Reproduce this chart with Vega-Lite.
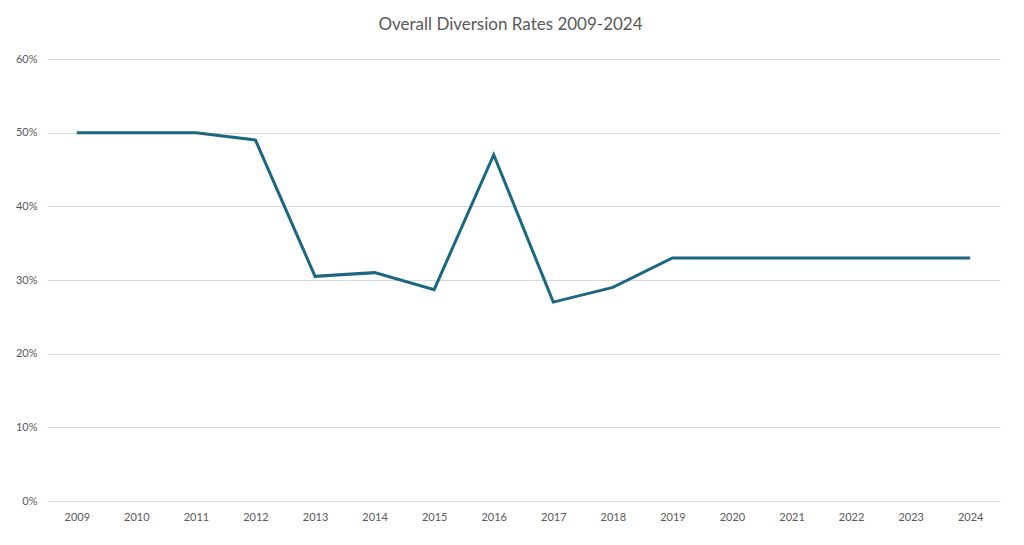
{
  "$schema": "https://vega.github.io/schema/vega-lite/v6.json",
  "autosize": {"type": "none"},
  "padding": {"left": 47, "top": 59, "right": 24, "bottom": 44},
  "width": 953,
  "height": 442,
  "background": "#ffffff",
  "title": {
    "text": "Overall Diversion Rates 2009-2024",
    "font": "Lato",
    "fontSize": 17,
    "fontWeight": "normal",
    "color": "#595959",
    "anchor": "middle",
    "offset": 19,
    "dx": -13
  },
  "config": {
    "view": {"stroke": null},
    "axis": {"labelFont": "Lato", "labelFontSize": 11, "labelColor": "#595959"}
  },
  "data": {
    "values": [
      {"year": "2009", "rate": 0.50},
      {"year": "2010", "rate": 0.50},
      {"year": "2011", "rate": 0.50},
      {"year": "2012", "rate": 0.49},
      {"year": "2013", "rate": 0.305},
      {"year": "2014", "rate": 0.31},
      {"year": "2015", "rate": 0.287},
      {"year": "2016", "rate": 0.47},
      {"year": "2017", "rate": 0.27},
      {"year": "2018", "rate": 0.29},
      {"year": "2019", "rate": 0.33},
      {"year": "2020", "rate": 0.33},
      {"year": "2021", "rate": 0.33},
      {"year": "2022", "rate": 0.33},
      {"year": "2023", "rate": 0.33},
      {"year": "2024", "rate": 0.33}
    ]
  },
  "mark": {"type": "line", "color": "#1b6682", "strokeWidth": 3, "strokeJoin": "miter"},
  "encoding": {
    "x": {
      "field": "year",
      "type": "ordinal",
      "scale": {"type": "point", "padding": 0.5},
      "axis": {
        "title": null,
        "labelAngle": 0,
        "ticks": false,
        "domainColor": "#d9d9d9",
        "domainWidth": 1,
        "labelPadding": 10,
        "grid": false
      }
    },
    "y": {
      "field": "rate",
      "type": "quantitative",
      "scale": {"domain": [0, 0.6], "nice": false},
      "axis": {
        "title": null,
        "values": [0, 0.1, 0.2, 0.3, 0.4, 0.5, 0.6],
        "format": ".0%",
        "domain": false,
        "ticks": false,
        "gridColor": "#d9d9d9",
        "gridWidth": 1,
        "labelPadding": 10
      }
    }
  }
}
